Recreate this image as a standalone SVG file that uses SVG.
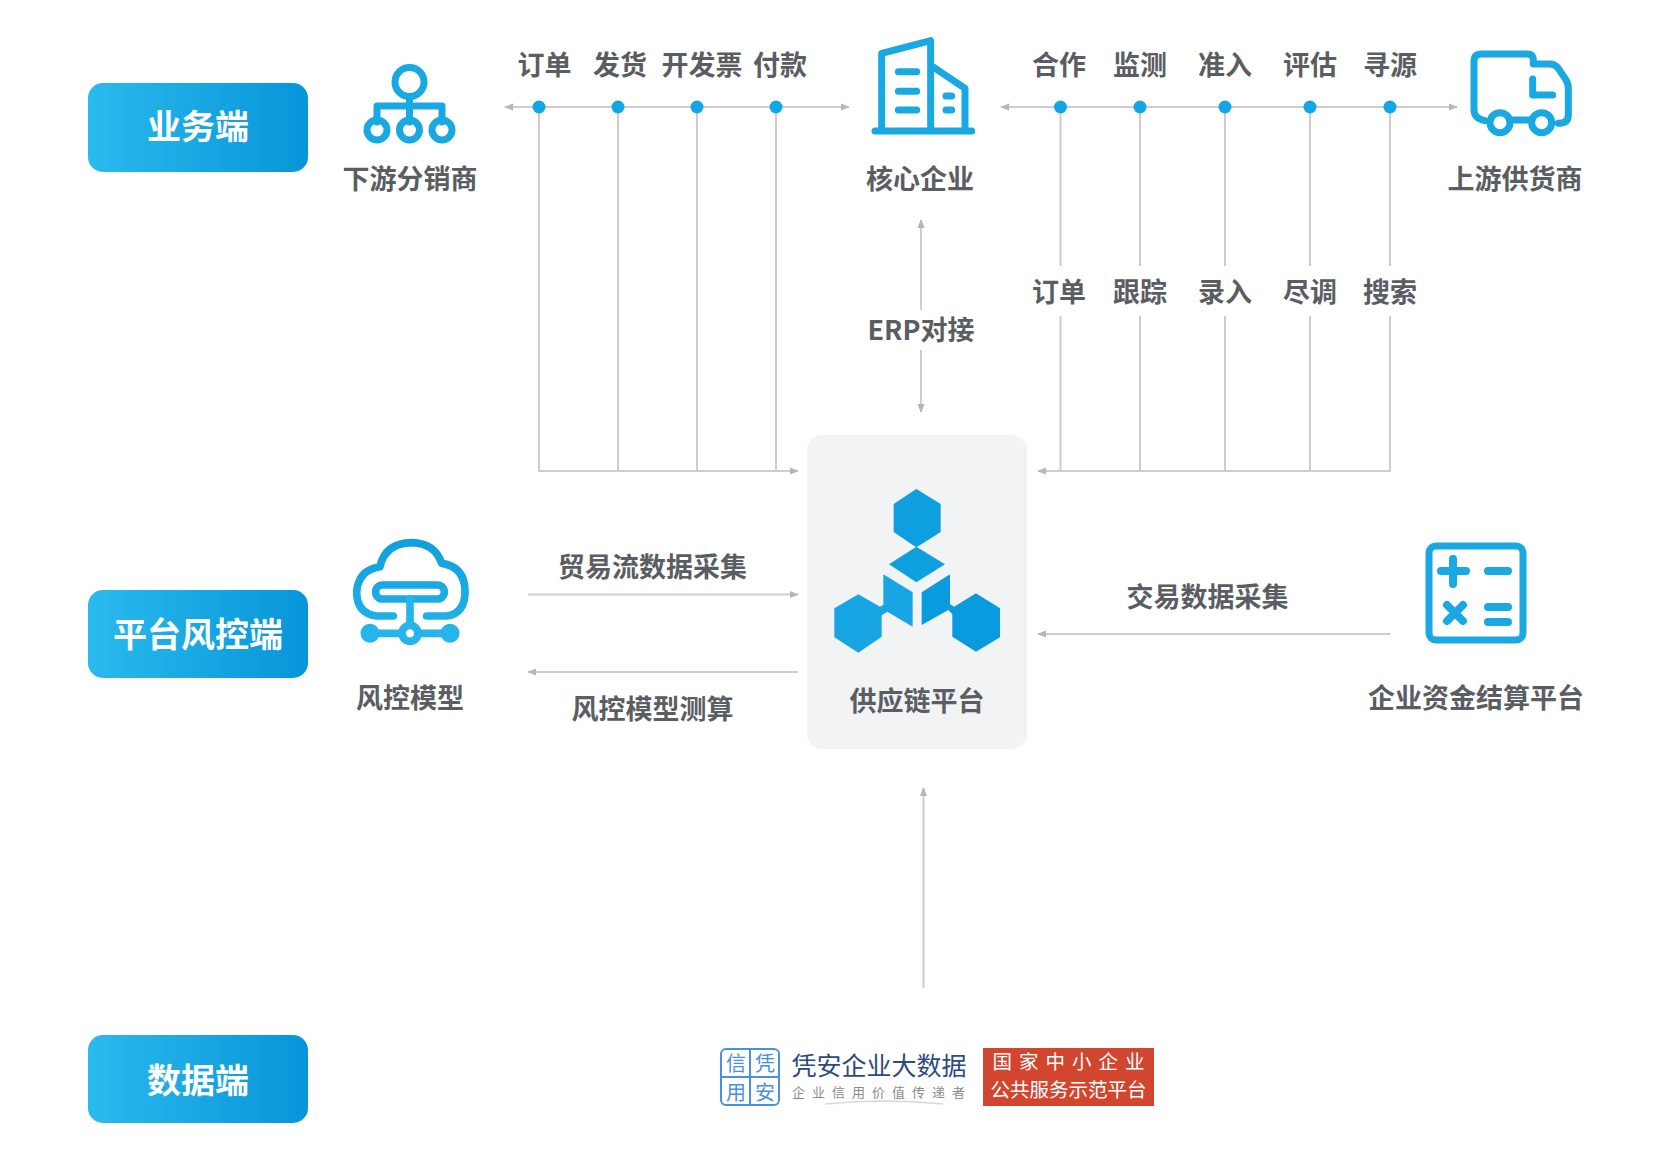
<svg xmlns="http://www.w3.org/2000/svg" width="1666" height="1172" viewBox="0 0 1666 1172">
<style>
text{font-family:"Noto Sans CJK SC","Noto Sans",sans-serif;text-anchor:middle}
.l{font-size:27px;font-weight:700;fill:#5a5e63}
.b{font-size:34px;font-weight:700;fill:#fff}
.c{fill:none;stroke:#cbcdd0;stroke-width:2}
.i{fill:none;stroke:#19a8e2;stroke-width:7;stroke-linecap:round;stroke-linejoin:round}
.z{fill:none;stroke:#19a8e2;stroke-width:21;stroke-linecap:round;stroke-linejoin:round}
.d{fill:#14a5e4}
.btn{fill:url(#bg)}
</style>
<defs>
<linearGradient id="bg" x1="0" x2="1" y1="0" y2="0"><stop offset="0" stop-color="#2abaec"/><stop offset="1" stop-color="#0795da"/></linearGradient>
<linearGradient id="cg" gradientUnits="userSpaceOnUse" x1="0" y1="30" x2="0" y2="340"><stop offset="0" stop-color="#0f9fde"/><stop offset="1" stop-color="#25b5ea"/></linearGradient>
<marker id="a" viewBox="0 0 10 10" refX="9" refY="5" markerWidth="9" markerHeight="9" markerUnits="userSpaceOnUse" orient="auto-start-reverse"><path d="M0 1L10 5L0 9Z" fill="#b4b6b9"/></marker>
</defs>
<rect width="1666" height="1172" fill="#fff"/>
<g id="connectors">
<path class="c" d="M539 107H505" marker-end="url(#a)"/>
<path class="c" d="M539 107H849" marker-end="url(#a)"/>
<path class="c" d="M1060 107H1001" marker-end="url(#a)"/>
<path class="c" d="M1060 107H1457" marker-end="url(#a)"/>
<path class="c" d="M539 107V471H798" marker-end="url(#a)"/>
<path class="c" d="M618 107V471M697 107V471M776 107V471"/>
<path class="c" d="M1390 107V266M1310 107V266M1225 107V266M1140 107V266M1060.500 107V266"/>
<path class="c" d="M1060.500 316V471M1140 316V471M1225 316V471M1310 316V471"/>
<path class="c" d="M1390 316V471H1038" marker-end="url(#a)"/>
<path class="c" d="M921 310V220" marker-end="url(#a)"/>
<path class="c" d="M921 350V412" marker-end="url(#a)"/>
<path class="c" d="M528 594.500H798" marker-end="url(#a)"/>
<path class="c" d="M798 672H528" marker-end="url(#a)"/>
<path class="c" d="M1390 634H1038" marker-end="url(#a)"/>
<path class="c" d="M923.500 988V788" marker-end="url(#a)"/>
<g class="d"><circle cx="539" cy="107" r="6.500"/><circle cx="618" cy="107" r="6.500"/><circle cx="697" cy="107" r="6.500"/><circle cx="776" cy="107" r="6.500"/><circle cx="1060.500" cy="107" r="6.500"/><circle cx="1140" cy="107" r="6.500"/><circle cx="1225" cy="107" r="6.500"/><circle cx="1310" cy="107" r="6.500"/><circle cx="1390" cy="107" r="6.500"/></g>
<g class="l"><text x="544.500" y="75">订单</text><text x="620" y="75">发货</text><text x="702" y="75">开发票</text><text x="780" y="75">付款</text>
<text x="1059" y="75">合作</text><text x="1140" y="75">监测</text><text x="1225" y="75">准入</text><text x="1310" y="75">评估</text><text x="1390" y="75">寻源</text>
<text x="1059" y="302">订单</text><text x="1140" y="302">跟踪</text><text x="1225" y="302">录入</text><text x="1310" y="302">尽调</text><text x="1390" y="302">搜索</text>
<text x="921" y="340">ERP对接</text>
<text x="652.500" y="577">贸易流数据采集</text><text x="652.500" y="719">风控模型测算</text><text x="1207.500" y="607">交易数据采集</text></g>
</g>
<g id="btn-business"><rect class="btn" x="88" y="83" width="220" height="89" rx="15"/><text class="b" x="198" y="139">业务端</text></g>
<g id="btn-risk"><rect class="btn" x="88" y="590" width="220" height="88" rx="15"/><text class="b" x="198" y="647">平台风控端</text></g>
<g id="btn-data"><rect class="btn" x="88" y="1035" width="220" height="88" rx="15"/><text class="b" x="198" y="1093">数据端</text></g>
<g id="node-distributor">
<g class="i"><circle cx="409.500" cy="82" r="14.500"/><path d="M409.500 97V106M377 122V106H442V122M409.500 106V122"/><circle cx="377" cy="130" r="10"/><circle cx="409.500" cy="130" r="10"/><circle cx="442" cy="130" r="10"/></g>
<text class="l" x="410" y="189">下游分销商</text></g>
<g id="node-core">
<g class="z" transform="translate(840 20) scale(.33333)"><path d="M125 330V100L272 62V330M278 140L375 205V330M105 333H395"/><path d="M175 155H230M175 214H230M175 270H230M318 228H335M318 270H335"/></g>
<text class="l" x="920" y="189">核心企业</text></g>
<g id="node-supplier">
<g class="z" transform="translate(1450 30) scale(.33333)">
<path d="M105 272Q72 265 72 240V95Q72 72 95 72H232Q250 72 250 90V102H300Q315 102 325 115L345 145Q355 158 355 175V255Q355 280 325 280M180 270H245M248 147V195H308"/>
<circle cx="150" cy="278" r="30"/><circle cx="275" cy="278" r="30"/></g>
<text class="l" x="1515" y="189">上游供货商</text></g>
<g id="node-platform">
<rect x="807" y="435" width="220" height="314" rx="15" fill="#f1f3f5"/>
<g transform="translate(800 430) scale(.33333)">
<path fill="#0e9fe0" d="M349 177L422 222V306L364 343L349 352L335 343L281 306V222Z"/>
<path fill="#0e9fe0" d="M349 350L435 403L349 457L267 403Z"/>
<path fill="#17a5e4" d="M250 433L338 487V590L262 545L245 556V620L175 668L103 622V535L175 493L240 530L250 524Z"/>
<path fill="#0a9ade" d="M450 433L365 487V585L445 540L457 553V620L528 665L600 622V535L528 490L462 530L450 522Z"/>
</g>
<text class="l" x="917" y="711">供应链平台</text></g>
<g id="node-risk">
<g transform="translate(340 530) scale(.33333)" fill="none" stroke="url(#cg)" stroke-width="23" stroke-linecap="round" stroke-linejoin="round">
<path d="M160 258H110Q50 250 50 185Q55 120 120 110Q135 40 215 38Q285 40 305 100Q375 110 375 185Q375 250 320 258H260"/>
<rect x="107" y="165" width="206" height="42" rx="21"/>
<path d="M210 207V290M90 310H330" stroke="#25b5ea"/>
<circle cx="90" cy="310" r="17" fill="#25b5ea" stroke="#25b5ea"/><circle cx="330" cy="310" r="17" fill="#25b5ea" stroke="#25b5ea"/>
<circle cx="210" cy="310" r="24" fill="#fff" stroke="#25b5ea"/></g>
<text class="l" x="410" y="708">风控模型</text></g>
<g id="node-settlement">
<g class="i"><rect x="1429" y="546" width="94" height="94" rx="7"/><g stroke-width="8"><path d="M1453 559V584M1441 571H1466M1488 571H1508M1447 605L1463 621M1463 605L1447 621M1488 607H1508M1488 622H1508"/></g></g>
<text class="l" x="1476" y="708">企业资金结算平台</text></g>
<g id="logo-pingan">
<rect x="721" y="1049" width="58" height="56" rx="5" fill="none" stroke="#4a90e2" stroke-width="2"/><path d="M750 1049V1105M721 1077H779" stroke="#4a90e2" stroke-width="2"/>
<g font-size="20" fill="#4a90e2"><text x="736" y="1071">信</text><text x="765" y="1071">凭</text><text x="736" y="1100">用</text><text x="765" y="1100">安</text></g>
<text x="879" y="1075" font-size="25" fill="#2d4a7c">凭安企业大数据</text>
<text x="882" y="1097" font-size="13" letter-spacing="7" fill="#8a8a8a">企业信用价值传递者</text>
<path d="M825 1104Q885 1098 943 1104" fill="none" stroke="#d5d8dc" stroke-width="1.500"/>
</g>
<g id="logo-sme"><rect x="983" y="1048" width="171" height="58" fill="#d2452f"/>
<text x="1072" y="1069" font-size="19.500" letter-spacing="7" fill="#fff">国家中小企业</text>
<text x="1068.500" y="1097" font-size="19.500" fill="#fff">公共服务示范平台</text></g>
</svg>
